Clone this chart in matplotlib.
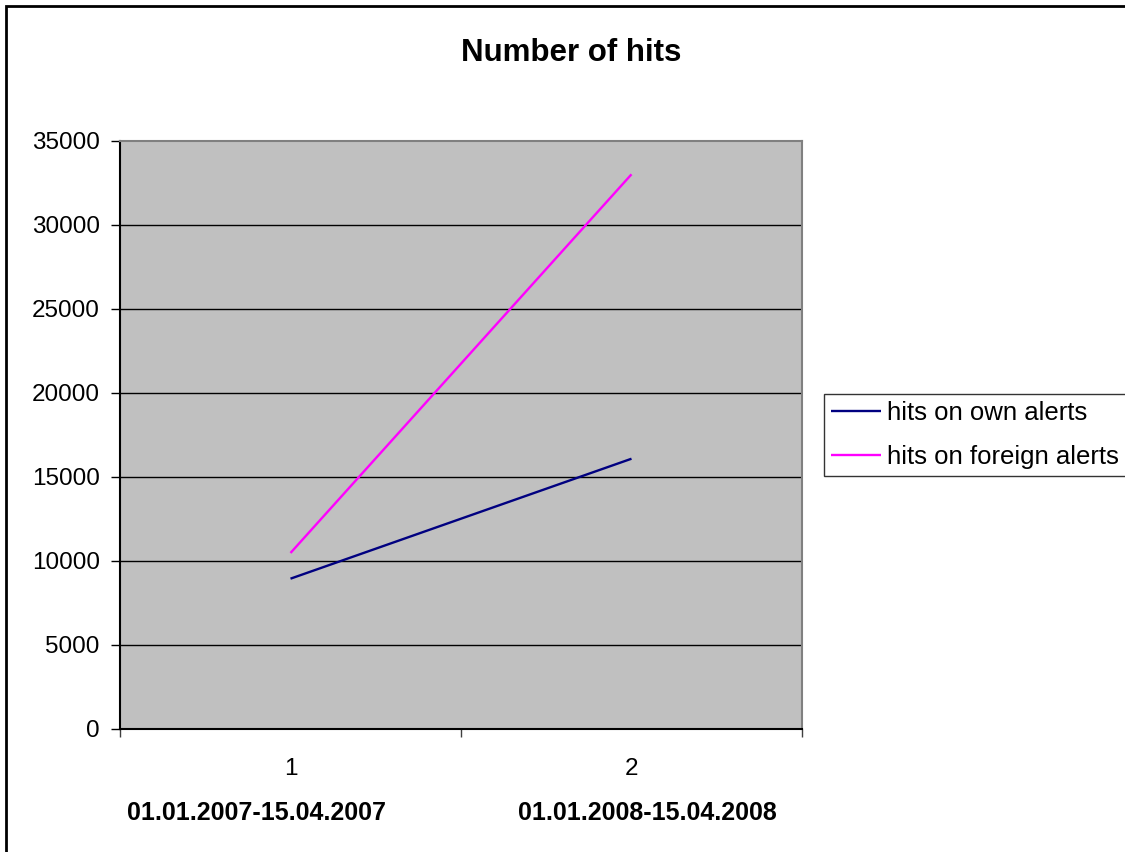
import matplotlib
matplotlib.use("Agg")
import matplotlib.pyplot as plt
from matplotlib.patches import Rectangle
from matplotlib.ticker import FixedLocator

plt.rcParams['font.family'] = ['Liberation Sans', 'DejaVu Sans']

categories = [1, 2]
period_labels = ["01.01.2007-15.04.2007", "01.01.2008-15.04.2008"]
own_alerts = [8930, 16070]
foreign_alerts = [10460, 33000]
series_names = ["hits on own alerts", "hits on foreign alerts"]
yticks = [0, 5000, 10000, 15000, 20000, 25000, 30000, 35000]

W, H = 1125, 852
fig = plt.figure(figsize=(W / 100, H / 100), dpi=100)
fig.patch.set_facecolor("white")

# outer chart border (cut off at right/bottom)
fig.patches.append(Rectangle((6 / W, -0.1), 1.2, (H - 6) / H + 0.1,
                             transform=fig.transFigure, fill=False,
                             edgecolor="black", linewidth=2))

ax = fig.add_axes([120 / W, (H - 728.7) / H, (802 - 120) / W, 588 / H])
ax.set_facecolor("#C0C0C0")

ax.plot(categories, own_alerts, color="#000080", linewidth=1.7,
        label=series_names[0], solid_capstyle="butt")
ax.plot(categories, foreign_alerts, color="#FF00FF", linewidth=1.7,
        label=series_names[1], solid_capstyle="butt")

ax.set_xlim(0.5, 2.5)
ax.set_ylim(0, 35000)
ax.set_yticks(yticks)
ax.set_yticklabels([str(v) for v in yticks])
for v in yticks[1:-1]:
    ax.axhline(v, color="black", linewidth=1.0, zorder=1)

ax.xaxis.set_major_locator(FixedLocator([0.5, 1.5, 2.5]))
ax.xaxis.set_minor_locator(FixedLocator(categories))
ax.set_xticklabels([], minor=False)
ax.set_xticklabels([str(c) for c in categories], minor=True)
ax.tick_params(axis="x", which="major", length=6, width=1, color="#404040")
ax.tick_params(axis="x", which="minor", length=0, pad=21, labelsize=17.5)
ax.tick_params(axis="y", length=6.5, width=1, pad=8, labelsize=17.5)

for s in ["top", "right"]:
    ax.spines[s].set_color("#808080")
    ax.spines[s].set_linewidth(1.5)
for s in ["left", "bottom"]:
    ax.spines[s].set_color("black")
    ax.spines[s].set_linewidth(1.5)

fig.text(571 / W, 1 - 53 / H, "Number of hits", ha="center", va="center",
         fontsize=22.5, fontweight="bold")
fig.text(256 / W, 1 - 813 / H, period_labels[0], ha="center", va="center",
         fontsize=18, fontweight="bold")
fig.text(647 / W, 1 - 813 / H, period_labels[1], ha="center", va="center",
         fontsize=18, fontweight="bold")

leg = fig.legend(loc="center left", bbox_to_anchor=(824 / W, 1 - 434.7 / H),
                 fontsize=18.5, frameon=True, fancybox=False, shadow=False,
                 handlelength=1.95, handletextpad=0.25, borderpad=0.27,
                 labelspacing=0.78, borderaxespad=0)
leg.get_frame().set_edgecolor("black")
leg.get_frame().set_linewidth(1.0)

fig.savefig("out.png", dpi=100)
